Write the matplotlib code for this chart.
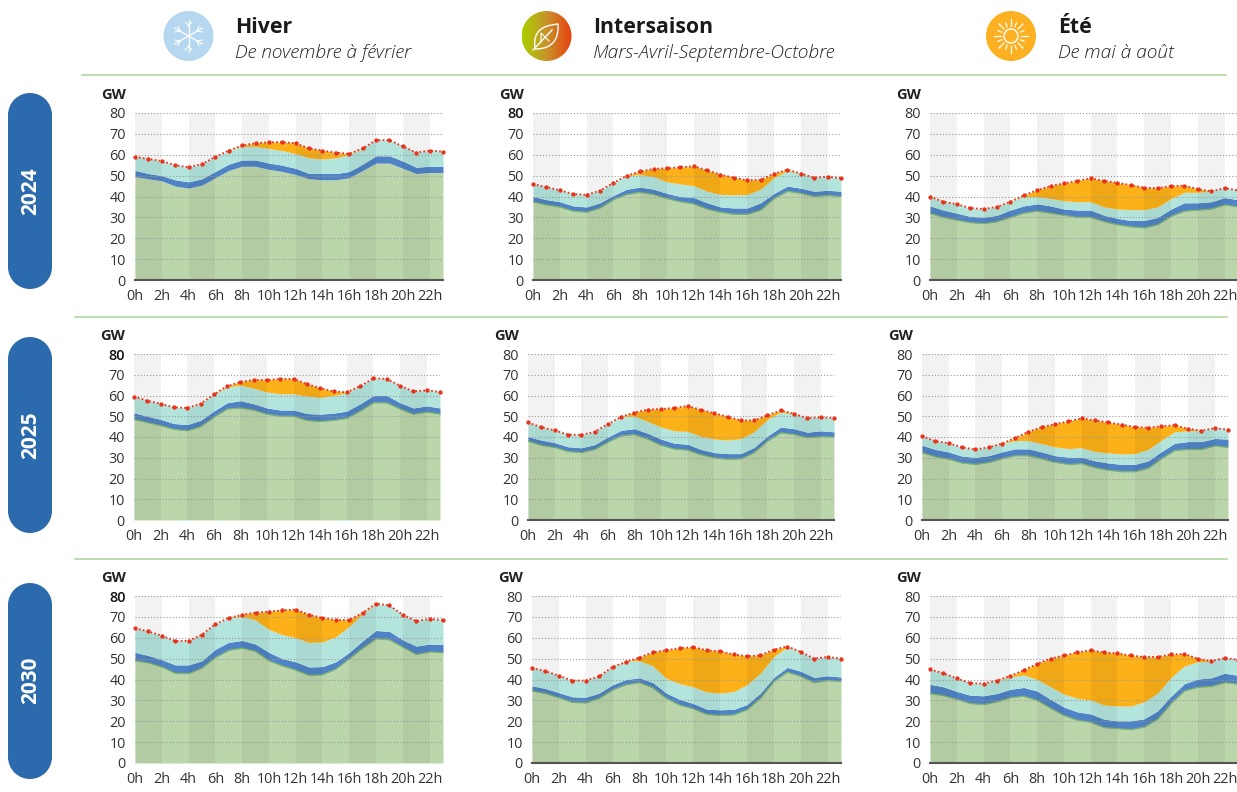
import matplotlib
matplotlib.use("Agg")
import matplotlib.pyplot as plt
import numpy as np
from matplotlib.patches import Circle, PathPatch, Rectangle
from matplotlib.path import Path
from matplotlib.colors import LinearSegmentedColormap

plt.rcParams["font.family"] = ["Open Sans", "DejaVu Sans"]

W, H = 1237, 792

hours = list(range(24))
hour_labels = [f"{h}h" for h in range(0, 24, 2)]
y_ticks = [0, 10, 20, 30, 40, 50, 60, 70, 80]
years = ["2024", "2025", "2030"]

# each panel: green top, blue band top, teal top, total (GW)
hiver_2024_green = [49.5, 48.5, 47.5, 45, 44, 45.5, 49, 52.5, 54.5, 54.5, 53, 52, 50.5, 48.5, 48, 48, 49, 52.5, 56, 56, 53.5, 51, 51.5, 51.5]
hiver_2024_blue = [52.5, 51, 50, 48, 47, 48.5, 52, 55.5, 57.5, 57.5, 56, 55, 53.5, 51, 51, 51, 52, 55.5, 59.5, 59.5, 57, 54, 54.5, 54.5]
hiver_2024_teal = [59, 58, 57, 55, 54, 55.5, 59, 62, 64, 64, 63, 62, 60.5, 58.5, 58, 58.5, 60, 63, 67, 67, 64, 61, 62, 61.5]
hiver_2024_total = [59, 58, 57, 55, 54, 55.5, 59, 62, 64.5, 65.5, 66, 66, 65.5, 63, 62, 61, 60.5, 63, 67, 67, 64, 61, 62, 61.5]

inter_2024_green = [37.5, 36, 35, 33, 32.5, 34.5, 38.5, 41, 42, 41, 39, 37.5, 36.5, 34, 32.5, 31.5, 31.5, 33.5, 39, 42.5, 41.5, 40, 40.5, 40]
inter_2024_blue = [40, 38.5, 37.5, 35.5, 35, 37, 40.5, 43.5, 44.5, 43.5, 41.5, 40, 39.5, 37, 35, 34.5, 34.5, 37, 41.5, 45, 44, 42.5, 43, 42.5]
inter_2024_teal = [46, 44.5, 43, 41.2, 40.8, 42.8, 46.5, 50, 50.5, 49.5, 47, 46, 45.2, 42.5, 41, 40.8, 41, 43.5, 49, 52.3, 51, 49, 49.5, 48.7]
inter_2024_total = [46, 44.5, 43, 41.2, 40.8, 42.8, 46.5, 50, 52, 53.2, 53.5, 54, 54.5, 52.5, 50.5, 49, 47.8, 48, 51, 52.8, 51, 49, 49.5, 48.7]

ete_2024_green = [32, 30, 28.7, 27.5, 27, 28, 30, 32, 33, 32, 31, 30, 30, 28, 26.5, 25.5, 25, 26.5, 30.5, 33, 33.5, 34, 36, 35]
ete_2024_blue = [35.5, 33.5, 32, 30.5, 30, 31, 33.5, 35.5, 36.5, 35.5, 34, 33.5, 33.5, 31, 29.5, 28.5, 28.5, 30, 34, 37, 37, 37.5, 39.5, 38.5]
ete_2024_teal = [40, 37.5, 36.3, 34.5, 34, 35, 37.5, 40, 40, 39, 38, 37.5, 37.5, 35, 34, 33.7, 33.7, 35, 39, 42, 42, 42.5, 44, 43]
ete_2024_total = [40, 37.5, 36.3, 34.5, 34, 35, 37.5, 40.5, 43, 45, 46.3, 47.5, 48.7, 47.5, 46.5, 45.5, 44.2, 44, 45, 45.2, 43.5, 42.5, 44, 43]

hiver_2025_green = [48.5, 47, 45.5, 43.7, 43, 45, 49.5, 53.5, 54, 53, 51, 50, 50, 48, 47.5, 48, 49, 52.5, 56.5, 56.5, 53.5, 51, 52, 51]
hiver_2025_blue = [51.7, 50, 48.5, 46.5, 46, 48, 52.5, 56.5, 57.5, 56, 54, 53, 53, 51.3, 51, 51.5, 52.5, 56, 60, 60, 56.5, 54, 55, 54]
hiver_2025_teal = [59.5, 57.5, 56, 54.3, 54, 56, 60.5, 64, 65, 63.5, 61.7, 60.8, 60.8, 59.7, 59, 60, 61.3, 64.5, 68.3, 68, 64.7, 62, 62.5, 61.7]
hiver_2025_total = [59.5, 57.5, 56, 54.3, 54, 56, 60.5, 64.5, 66.5, 67.5, 67.5, 68, 68, 65.5, 63.5, 62, 61.5, 64.5, 68.3, 68, 64.7, 62, 62.5, 61.7]

inter_2025_green = [38, 36, 35, 33, 32.5, 34, 37.5, 40.5, 41.2, 39, 36, 34.2, 33.7, 31.5, 30, 29.2, 29.5, 32.5, 38, 42, 41.2, 39.7, 40.2, 40]
inter_2025_blue = [40.2, 38.5, 37.3, 35.3, 34.8, 36.3, 40, 43.2, 44, 41.8, 39, 37, 36.5, 34, 32.5, 32, 32, 35, 40.5, 44.8, 44, 42.3, 43, 42.5]
inter_2025_teal = [47, 44.7, 43.2, 41.2, 41, 42.5, 46.2, 49.7, 50, 47.5, 44.8, 43, 42.7, 40.3, 39, 38.5, 39.2, 42.5, 48.5, 52, 51, 49, 49.5, 49]
inter_2025_total = [47, 44.7, 43.2, 41.2, 41, 42.5, 46.2, 49.7, 51.8, 53.2, 53.5, 54, 55, 53, 51.5, 49.7, 48, 48, 50.5, 52.8, 51.2, 49, 49.5, 49]

ete_2025_green = [32.5, 30.5, 29.3, 27.5, 26.8, 27.7, 29.5, 31, 31, 29.5, 27.8, 26.8, 27.2, 25.3, 24, 23.3, 23.3, 25, 29.5, 33.5, 34, 34, 35.7, 35]
ete_2025_blue = [36, 34, 32.8, 30.8, 30.2, 31, 32.8, 34.3, 34.3, 32.8, 31, 30.3, 30.3, 28.5, 27.5, 26.8, 26.8, 28.5, 33, 37, 37.8, 37.8, 39.3, 39]
ete_2025_teal = [40.5, 38, 37, 35, 34, 35, 36.8, 38.3, 38.3, 36.8, 35.2, 34.4, 34.8, 33, 32.3, 31.8, 32, 34, 38.5, 42.5, 43, 43, 44.3, 43.5]
ete_2025_total = [40.5, 38, 37, 35, 34, 35, 36.8, 39.5, 42.5, 44.8, 46.2, 47.5, 49, 48, 47, 46, 44.8, 44.5, 45.2, 45.7, 44, 43, 44.3, 43.5]

hiver_2030_green = [49, 48, 46, 43, 42.8, 45.5, 50.5, 54, 55, 53.5, 49, 46.5, 44.5, 42, 42.3, 45, 50, 55, 59.5, 59, 55.5, 52, 53.2, 52.8]
hiver_2030_blue = [53, 51.5, 49.5, 47, 47, 49, 54.5, 57.8, 58.7, 57, 53, 50, 48.5, 46, 46.2, 48.5, 53, 58.5, 63.5, 63, 59, 56, 57, 56.8]
hiver_2030_teal = [64.5, 63, 61, 58.5, 58.5, 61.5, 66.5, 69.5, 70.3, 68.5, 64, 61.5, 60, 57.8, 58, 60.5, 65.5, 71.5, 76.3, 75.5, 71, 68, 69, 68.5]
hiver_2030_total = [64.5, 63, 61, 58.5, 58.5, 61.5, 66.5, 69.5, 71, 72, 72.5, 73.2, 73.5, 71, 69.5, 68.5, 68.5, 72, 76.3, 75.5, 71, 68, 69, 68.5]

inter_2030_green = [34.5, 33.3, 31.3, 29, 28.8, 31, 35, 37.5, 38.5, 36, 31, 27.7, 26, 23.3, 22.8, 23, 25.5, 31, 39, 43.5, 41.5, 38.5, 39.5, 39]
inter_2030_blue = [37, 35.7, 33.7, 31.7, 31.5, 33.5, 37.5, 40, 40.8, 38.5, 33.5, 30.5, 28.5, 25.8, 25.5, 25.7, 28, 33.5, 41, 45.8, 44, 41, 41.8, 41.2]
inter_2030_teal = [45.5, 44, 41.8, 39.5, 39.5, 41.5, 46, 48.8, 49, 46.5, 40.5, 38, 36.5, 34, 33.5, 34.2, 37.5, 43, 51, 55.5, 53.3, 50, 50.8, 50]
inter_2030_total = [45.5, 44, 41.8, 39.5, 39.5, 41.5, 46, 48.5, 50.5, 53, 54, 55, 55.5, 54, 53.5, 52, 51.2, 51.5, 54.3, 55.8, 53.3, 50, 50.8, 50]

ete_2030_green = [33.3, 32.3, 30.5, 28.5, 28, 29.3, 31.3, 32, 30, 26.3, 22.8, 20.5, 19.5, 17, 16.5, 16, 17.2, 21, 28.5, 34.5, 36.3, 36.7, 38.5, 37.8]
ete_2030_blue = [37.7, 36.5, 34.3, 32.5, 32.2, 33.3, 35.3, 36.2, 34.5, 30.5, 26.8, 24.5, 23.5, 21, 20.2, 20.2, 21.2, 25, 32, 38, 40.2, 40.8, 43, 42]
ete_2030_teal = [44.8, 43, 40.5, 38.3, 38, 39.5, 41.2, 42.2, 40, 36.5, 33, 31, 30.2, 27.8, 27.3, 27.3, 29.3, 33.5, 41, 46.5, 48.5, 48.7, 50.3, 49.5]
ete_2030_total = [44.8, 43, 40.5, 38.3, 38, 39.5, 41.7, 44.5, 47.5, 50, 51.5, 53, 54, 53, 52.5, 51.5, 50.8, 50.8, 52, 52.2, 50, 48.7, 50.3, 49.5]

panels = [
    [(hiver_2024_green, hiver_2024_blue, hiver_2024_teal, hiver_2024_total),
     (inter_2024_green, inter_2024_blue, inter_2024_teal, inter_2024_total),
     (ete_2024_green, ete_2024_blue, ete_2024_teal, ete_2024_total)],
    [(hiver_2025_green, hiver_2025_blue, hiver_2025_teal, hiver_2025_total),
     (inter_2025_green, inter_2025_blue, inter_2025_teal, inter_2025_total),
     (ete_2025_green, ete_2025_blue, ete_2025_teal, ete_2025_total)],
    [(hiver_2030_green, hiver_2030_blue, hiver_2030_teal, hiver_2030_total),
     (inter_2030_green, inter_2030_blue, inter_2030_teal, inter_2030_total),
     (ete_2030_green, ete_2030_blue, ete_2030_teal, ete_2030_total)],
]

# pixel layout of the panels: left / right of each column, top / bottom of each row
col_x = [[(135, 443), (533, 841), (930, 1238)],
         [(134, 440), (528, 834), (922, 1228)],
         [(135, 443), (532, 841), (930, 1238)]]
row_y = [(113, 280), (354, 520), (596, 763)]
bold_top = [(0, 1), (1, 0), (2, 0)]  # these panels have a darker 80 label

fig = plt.figure(figsize=(W / 100, H / 100), dpi=100)


def draw_panel(ax, green, blue, teal, total, dark_base, bold80, green_edge):
    ax.fill_between(hours, 0, green, color="#bcd6ab", lw=0)
    ax.fill_between(hours, green, blue, color="#5083c6", lw=0)
    ax.fill_between(hours, blue, teal, color="#b3e5dc", lw=0)
    ax.fill_between(hours, teal, total, color="#fdb118", lw=0)
    if green_edge:
        ax.plot(hours, green, color="#7db46c", lw=0.9)
    for start in range(0, 24, 4):
        ax.axvspan(start, start + 2, color="black", alpha=0.05, lw=0, zorder=2)
    ax.set_yticks(y_ticks)
    ax.grid(axis="y", color="#999999", ls=(0, (1, 1.8)), lw=0.8, zorder=3)
    ax.set_axisbelow(False)
    ax.plot(hours, total, color="#e8331a", ls=(0, (1, 1.2)), lw=1.3, zorder=5, clip_on=False)
    ax.plot(hours, total, ls="none", marker="o", ms=2.1, color="#e8331a", zorder=5, clip_on=False)
    ax.set_xlim(0, 23)
    ax.set_ylim(0, 80)
    ax.set_xticks(range(0, 24, 2))
    ax.set_xticklabels(hour_labels)
    ax.tick_params(length=0, labelsize=10.4, colors="#333333")
    ax.tick_params(axis="y", pad=6.5)
    ax.tick_params(axis="x", pad=6.2)
    for side in ["top", "right", "left", "bottom"]:
        ax.spines[side].set_visible(False)
    if dark_base:
        ax.axhline(0, color="#555555", lw=1.5, zorder=6, clip_on=False)
    if bold80:
        ax.get_yticklabels()[-1].set_fontweight("semibold")
        ax.get_yticklabels()[-1].set_color("#111111")


for r, row in enumerate(panels):
    top, bottom = row_y[r]
    for c, series in enumerate(row):
        left, right = col_x[r][c]
        ax = fig.add_axes([left / W, 1 - bottom / H, (right - left) / W, (bottom - top) / H])
        ax.patch.set_alpha(0)
        dark_base = c > 0 or r == 0
        draw_panel(ax, *series, dark_base, (r, c) in bold_top, (r, c) != (0, 0))

# overlay in pixel coordinates for the header, pills and rules
ov = fig.add_axes([0, 0, 1, 1], zorder=10)
ov.set_axis_off()
ov.patch.set_alpha(0)

for x0, x1, y in [(82, 1226, 74.5), (75, 1227, 316.5), (75, 1227, 558.5)]:
    ov.plot([x0, x1], [y, y], color="#a8d49c", lw=1.1)

for (top, bottom), year, mid in zip([(93, 289), (337, 533), (583, 779)], years, [191, 435, 680]):
    ov.add_patch(Rectangle((8, top + 22), 44, bottom - top - 44, fc="#2a6aad", ec="none"))
    ov.add_patch(Circle((30, top + 22), 22, fc="#2a6aad", ec="none"))
    ov.add_patch(Circle((30, bottom - 22), 22, fc="#2a6aad", ec="none"))
    ov.text(30.5, mid, year, color="white", fontsize=15, fontweight="bold",
            rotation=90, ha="center", va="center")

for r in range(3):
    for c in range(3):
        ov.text(col_x[r][c][0] - 34, row_y[r][0] - 18, "GW", fontsize=10.6,
                fontweight="bold", color="#222222", ha="left", va="center")

# season headers
seasons = [(188.5, 236, "Hiver", "De novembre à février"),
           (546.5, 594, "Intersaison", "Mars-Avril-Septembre-Octobre"),
           (1011, 1059, "Été", "De mai à août")]
for cx, tx, name, months in seasons:
    ov.text(tx - 1, 27.5, name, fontsize=15.3, fontweight="bold", color="#1a1a1a", ha="left", va="center")
    ov.text(tx - 1, 53.5, months, fontsize=13.8, style="italic", color="#222222", ha="left", va="center",
            fontweight="light")

# snowflake
ov.add_patch(Circle((188.5, 36), 25, fc="#b5d7f0", ec="none"))
for a in np.deg2rad([90, 150, 210]):
    dx, dy = np.cos(a), np.sin(a)
    ov.plot([188.5 - 16 * dx, 188.5 + 16 * dx], [36 - 16 * dy, 36 + 16 * dy], color="white", lw=0.9)
    for sgn in [-1, 1]:
        bx, by = 188.5 + sgn * 10 * dx, 36 + sgn * 10 * dy
        for t in [-0.7, 0.7]:
            ex = bx + 5 * sgn * (dx * np.cos(t) - dy * np.sin(t))
            ey = by + 5 * sgn * (dx * np.sin(t) + dy * np.cos(t))
            ov.plot([bx, ex], [by, ey], color="white", lw=0.8)

# leaf on a green to orange disc
leaf_cmap = LinearSegmentedColormap.from_list("leaf", ["#a9cf00", "#c9922a", "#e8400f"])
grad = ov.imshow(np.linspace(0, 1, 100).reshape(1, -1), cmap=leaf_cmap, aspect="auto",
                 extent=(521.5, 571.5, 61, 11), zorder=1)
disc = Circle((546.5, 36), 25, transform=ov.transData)
grad.set_clip_path(disc)
leaf = Path([(535, 49), (533, 32), (540, 26), (558, 24), (559, 40), (552, 49), (535, 49), (535, 49)],
            [Path.MOVETO, Path.CURVE4, Path.CURVE4, Path.CURVE4, Path.CURVE4, Path.CURVE4, Path.CURVE4, Path.CLOSEPOLY])
ov.add_patch(PathPatch(leaf, fc="none", ec="white", lw=1, zorder=2))
ov.plot([533, 552], [50, 30], color="white", lw=1, zorder=2)
ov.plot([541, 541, 549], [42, 33, 41], color="white", lw=0.8, zorder=2)

# sun
ov.add_patch(Circle((1011, 36), 25, fc="#fdb022", ec="none"))
ov.add_patch(Circle((1011, 36), 7, fc="none", ec="white", lw=1))
for i, a in enumerate(np.arange(0, 2 * np.pi, np.pi / 8)):
    r0, r1 = (10, 17) if i % 2 == 0 else (10, 14)
    ov.plot([1011 + r0 * np.cos(a), 1011 + r1 * np.cos(a)],
            [36 + r0 * np.sin(a), 36 + r1 * np.sin(a)], color="white", lw=0.9)

ov.set_xlim(0, W)
ov.set_ylim(H, 0)

plt.savefig("out.png", dpi=100)
